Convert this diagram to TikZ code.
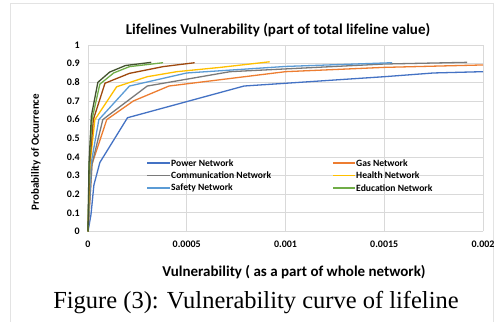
\documentclass[tikz,border=0pt]{standalone}
\usepackage{fontspec}
\setmainfont{Liberation Serif}
\newfontfamily\calib{Carlito}
\usepackage{tikz}
\usetikzlibrary{positioning}
\definecolor{powerblue}{HTML}{4472C4}
\definecolor{gasorange}{HTML}{ED7D31}
\definecolor{commgray}{HTML}{7A7A7A}
\definecolor{healthgold}{HTML}{FFC000}
\definecolor{safeblue}{HTML}{5B9BD5}
\definecolor{edugreen}{HTML}{70AD47}
\definecolor{darkolive}{HTML}{43542F}
\definecolor{darkbrown}{HTML}{9E480E}
\definecolor{gridgray}{HTML}{D9D9D9}
\definecolor{framegray}{HTML}{E3E3E3}

\begin{document}
\begin{tikzpicture}[x=1pt, y=1pt,
  ttl/.style={font=\calib\bfseries\fontsize{15}{15}\selectfont, inner sep=0pt},
  ylab/.style={font=\calib\bfseries\fontsize{11}{11}\selectfont, inner sep=0pt, rotate=90},
  tck/.style={font=\calib\bfseries\fontsize{10}{10}\selectfont, inner sep=0pt},
  legtxt/.style={font=\calib\bfseries\fontsize{9.6}{9.6}\selectfont, inner sep=0pt, anchor=west},
  key/.style={line width=1.6pt},
  crv/.style={line width=1.3pt, line join=round},
  grd/.style={draw=gridgray, line width=0.7pt}
]
\useasboundingbox (0,0) rectangle (500,321);
\fill[white] (0,0) rectangle (500,321);
% chart frame
\draw[framegray, line width=0.8pt] (10,-2) -- (10,317.7) -- (493.3,317.7) -- (493.3,-2);

% title and axis titles
\node[ttl] (title) at (278,291) {Lifelines Vulnerability (part of total lifeline value)};
\node[ylab] (ytitle) at (36,169) {Probability of Occurrence};
\node[ttl] (xtitle) at (294,49) {Vulnerability ( as a part of whole network)};

% plot area, x in units of 0.0001
\begin{scope}[shift={(88,89.5)}, x=19.75pt, y=186.5pt]
  \foreach \p in {0,0.1,...,1.01} \draw[grd] (0,\p) -- (20,\p);
  \foreach \v in {0,5,10,15,20} \draw[grd] (\v,0) -- (\v,1);
  \foreach \p/\t in {0/0,0.1/0.1,0.2/0.2,0.3/0.3,0.4/0.4,0.5/0.5,0.6/0.6,0.7/0.7,0.8/0.8,0.9/0.9,1/1}
    \node[tck, anchor=east] (yt\t) at ([xshift=-8pt]0,\p) {\t};
  \foreach \v/\t in {0/0,5/0.0005,10/0.001,15/0.0015,20/0.002}
    \node[tck] (xt\v) at ([yshift=-12.5pt]\v,0) {\t};

  % curves
  \draw[crv, powerblue] plot coordinates {(0,0) (0.15,0.09) (0.3,0.25) (0.6,0.37) (2.0,0.61) (7.9,0.78) (15,0.83) (17.5,0.85) (20,0.857)};
  \draw[crv, gasorange] plot coordinates {(0,0) (0.2,0.36) (0.95,0.6) (2.3,0.7) (4.1,0.78) (10,0.857) (15,0.88) (20,0.893)};
  \draw[crv, commgray] plot coordinates {(0,0) (0.2,0.36) (0.75,0.6) (3.0,0.78) (7.2,0.857) (15,0.898) (19.2,0.907)};
  \draw[crv, safeblue] plot coordinates {(0,0) (0.15,0.36) (0.55,0.6) (2.1,0.78) (5.0,0.85) (10,0.885) (15.4,0.905)};
  \draw[crv, healthgold] plot coordinates {(0,0) (0.1,0.36) (0.35,0.6) (1.45,0.776) (3,0.83) (4.5,0.857) (6.7,0.88) (9.2,0.91)};
  \draw[crv, darkbrown] plot coordinates {(0,0) (0.08,0.36) (0.27,0.6) (0.86,0.795) (2.1,0.848) (3.8,0.884) (5.4,0.905)};
  \draw[crv, edugreen] plot coordinates {(0,0) (0.06,0.36) (0.2,0.6) (0.6,0.79) (1.3,0.85) (2.1,0.884) (3.8,0.905)};
  \draw[crv, darkolive] plot coordinates {(0,0) (0.05,0.36) (0.17,0.62) (0.5,0.8) (1.1,0.855) (1.9,0.89) (3.2,0.907)};
\end{scope}

% legend
\node[legtxt] (lpow) at (171,158) {Power Network};
\node[legtxt] (lcom) at (171,145.5) {Communication Network};
\node[legtxt] (lsaf) at (171,133) {Safety Network};
\node[legtxt] (lgas) at (356,158) {Gas Network};
\node[legtxt] (lhea) at (356,145.5) {Health Network};
\node[legtxt] (ledu) at (356,133) {Education Network};
\draw[key, powerblue] ([xshift=-24pt]lpow.west) -- ([xshift=-1pt]lpow.west);
\draw[key, commgray] ([xshift=-24pt]lcom.west) -- ([xshift=-1pt]lcom.west);
\draw[key, safeblue] ([xshift=-24pt]lsaf.west) -- ([xshift=-1pt]lsaf.west);
\draw[key, gasorange] ([xshift=-23pt]lgas.west) -- ([xshift=-1pt]lgas.west);
\draw[key, healthgold] ([xshift=-23pt]lhea.west) -- ([xshift=-1pt]lhea.west);
\draw[key, edugreen] ([xshift=-23pt]ledu.west) -- ([xshift=-1pt]ledu.west);

% caption
\node[inner sep=0pt, font=\fontsize{24.5}{24.5}\selectfont] (cap) at (256,18) {Figure (3): Vulnerability curve of lifeline};
\end{tikzpicture}
\end{document}
